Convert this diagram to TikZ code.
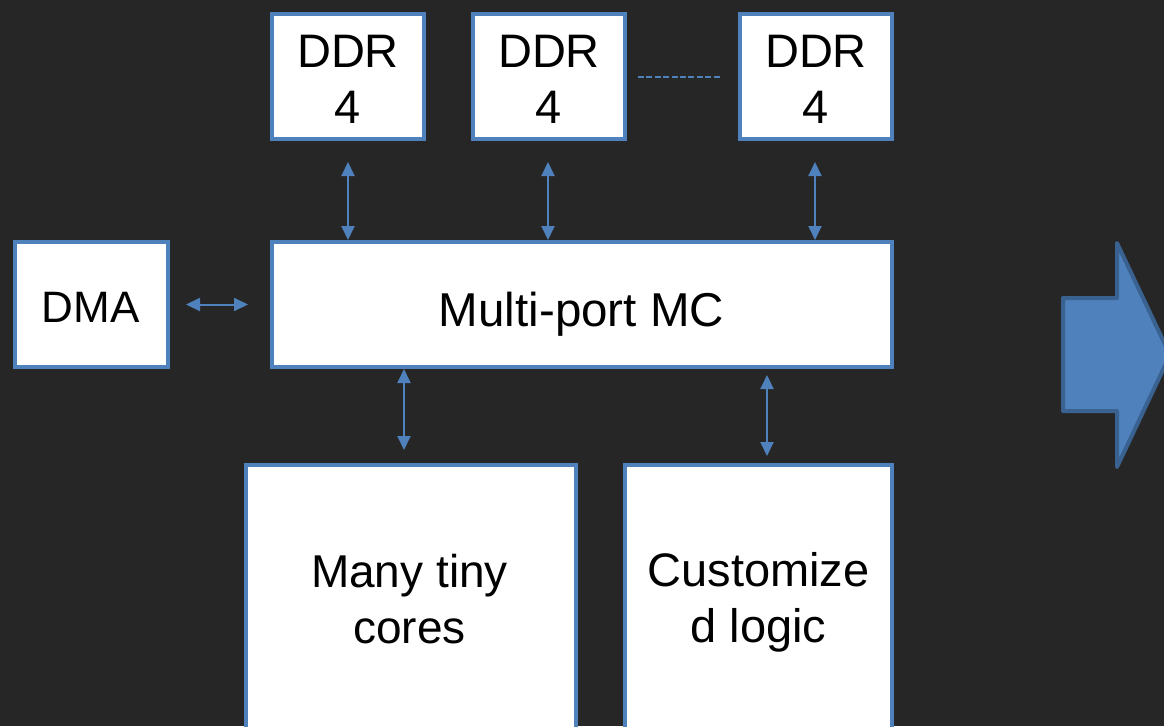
\documentclass[tikz,border=0pt]{standalone}
\usepackage{fontspec}
\setmainfont{Liberation Sans}
\usetikzlibrary{arrows.meta,calc}
\definecolor{bg}{HTML}{262626}
\definecolor{edge}{HTML}{4F81BD}
\definecolor{edgedark}{HTML}{3A6290}
\tikzset{
  blk/.style={draw=edge, line width=4pt, fill=white, inner sep=0pt},
  lbl/.style={anchor=base, inner sep=0pt, align=center, text=black},
  link/.style={draw=edge, line width=2pt,
    {Triangle[width=13pt,length=14pt]}-{Triangle[width=13pt,length=14pt]}},
}
\newcommand{\fsz}[1]{\fontsize{#1}{56}\selectfont}
\begin{document}
\begin{tikzpicture}[x=1pt,y=-1pt]
  \fill[bg] (0,0) rectangle (1164,726);
  \useasboundingbox (0,0) rectangle (1164,726);

  % memory channels (labels placed by the baseline of their last line)
  \node[blk, minimum width=152pt, minimum height=125pt] (d1) at (348,76.5) {};
  \node[blk, minimum width=152pt, minimum height=125pt] (d2) at (549,76.5) {};
  \node[blk, minimum width=152pt, minimum height=125pt] (d3) at (816,76.5) {};
  \node[lbl, font=\fsz{47}] (d1t) at (348,123.5) {DDR\\4};
  \node[lbl, font=\fsz{47}] (d2t) at (549,123.5) {DDR\\4};
  \node[lbl, font=\fsz{47}] (d3t) at (816,123.5) {DDR\\4};

  % controller and DMA
  \node[blk, minimum width=620pt, minimum height=125pt] (mc) at (582,304.5) {};
  \node[blk, minimum width=153pt, minimum height=125pt] (dma) at (91.5,304.5) {};
  \node[lbl, font=\fsz{47.5}] (mct) at (581.5,326) {Multi-port MC};
  \node[lbl, font=\fsz{44}] (dmat) at (90.5,322) {DMA};

  % compute blocks (run past the lower edge)
  \node[blk, minimum width=330pt, minimum height=270pt] (cores) at (411,600) {};
  \node[blk, minimum width=267pt, minimum height=270pt] (logic) at (758.5,600) {};
  \node[lbl, font=\fsz{46}] (corest) at (409.5,643) {Many tiny\\cores};
  \node[lbl, font=\fsz{47}] (logict) at (758.5,642.5) {Customize\\d logic};

  % dashed continuation between channels
  \draw[edge, line width=2pt, dash pattern=on 6pt off 2.4pt]
    ($(d2.east)+(11,0)$) -- ($(d3.west)+(-16,0)$);

  % links
  \draw[link] ($(d1.south)+(0,21)$) -- (d1.south |- mc.north);
  \draw[link] ($(d2.south)+(-1,21)$) -- ($(d2.south |- mc.north)+(-1,0)$);
  \draw[link] ($(d3.south)+(-1,21)$) -- ($(d3.south |- mc.north)+(-1,0)$);
  \draw[link] ($(dma.east)+(16,0)$) -- ($(mc.west)+(-22,0)$);
  \draw[link] (mc.south -| cores.north) ++(-7,0) coordinate (c1) -- ($(c1 |- cores.north)+(0,-13)$);
  \draw[link] ($(mc.south -| logic.north)+(8.5,6)$) coordinate (c2) -- ($(c2 |- logic.north)+(0,-7)$);

  % big arrow on the right
  \draw[edgedark, fill=edge, line width=4pt, line join=round]
    (1063,298) -- (1117,298) -- (1117,243) -- (1170,355) -- (1117,467)
    -- (1117,411) -- (1063,411) -- cycle;
\end{tikzpicture}
\end{document}
